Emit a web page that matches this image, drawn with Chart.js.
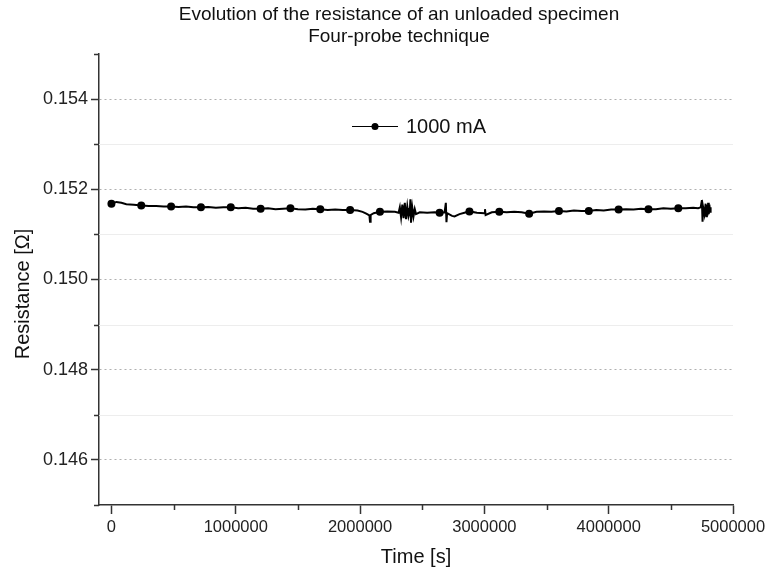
<!DOCTYPE html>
<html>
<head>
<meta charset="utf-8">
<script src="https://cdn.jsdelivr.net/npm/chart.js@4"></script>
<style>
  html, body { margin: 0; padding: 0; background: #fff; }
  canvas { display: block; }
</style>
</head>
<body>
<canvas id="grafico" width="766" height="575"></canvas>
<script>
// dados
var tempo = [
  0, 40000, 80000, 120000, 180000, 240000, 300000, 360000, 420000, 480000,
  540000, 600000, 660000, 720000, 780000, 840000, 900000, 960000, 1020000, 1080000,
  1140000, 1200000, 1260000, 1320000, 1380000, 1440000, 1500000, 1560000, 1620000, 1680000,
  1740000, 1800000, 1860000, 1920000, 1980000, 2020000, 2050000, 2075000, 2080000, 2085000,
  2110000, 2160000, 2220000, 2280000, 2310000, 2320000, 2330000, 2340000, 2350000, 2360000,
  2370000, 2380000, 2390000, 2400000, 2405000, 2410000, 2420000, 2430000, 2440000, 2450000,
  2480000, 2540000, 2600000, 2640000, 2680000, 2690000, 2695000, 2700000, 2740000, 2760000,
  2800000, 2840000, 2880000, 2940000, 3000000, 3005000, 3010000, 3060000, 3120000, 3180000,
  3240000, 3300000, 3360000, 3420000, 3480000, 3540000, 3600000, 3660000, 3720000, 3780000,
  3840000, 3900000, 3960000, 4020000, 4080000, 4140000, 4200000, 4260000, 4320000, 4380000,
  4440000, 4500000, 4560000, 4620000, 4680000, 4720000, 4740000, 4750000, 4755000, 4760000,
  4770000, 4780000, 4785000, 4790000, 4795000, 4800000, 4805000, 4810000, 4815000, 4820000
];
var resistencia = [
  0.15168, 0.15172, 0.15170, 0.15167, 0.15166, 0.15164, 0.15163, 0.15163, 0.15162, 0.15162,
  0.15161, 0.15162, 0.15160, 0.15160, 0.15161, 0.15159, 0.15160, 0.15160, 0.15158, 0.15159,
  0.15157, 0.15157, 0.15158, 0.15156, 0.15157, 0.15158, 0.15156, 0.15155, 0.15157, 0.15156,
  0.15154, 0.15155, 0.15154, 0.15154, 0.15153, 0.15150, 0.15146, 0.15142, 0.15128, 0.15143,
  0.15147, 0.15150, 0.15151, 0.15150, 0.15148, 0.15160, 0.15138, 0.15166, 0.15136, 0.15170,
  0.15134, 0.15162, 0.15140, 0.15150, 0.15178, 0.15126, 0.15160, 0.15140, 0.15156, 0.15145,
  0.15149, 0.15148, 0.15149, 0.15148, 0.15149, 0.15170, 0.15127, 0.15147, 0.15141, 0.15140,
  0.15145, 0.15148, 0.15151, 0.15148, 0.15147, 0.15156, 0.15143, 0.15149, 0.15150, 0.15149,
  0.15150, 0.15149, 0.15146, 0.15150, 0.15151, 0.15150, 0.15152, 0.15151, 0.15153, 0.15152,
  0.15152, 0.15154, 0.15153, 0.15155, 0.15155, 0.15156, 0.15155, 0.15157, 0.15156, 0.15156,
  0.15158, 0.15157, 0.15158, 0.15158, 0.15159, 0.15158, 0.15160, 0.15176, 0.15128, 0.15160,
  0.15145, 0.15168, 0.15140, 0.15165, 0.15142, 0.15170, 0.15145, 0.15166, 0.15150, 0.15160
];
// instantes com marcador (símbolo)
var marcadores = [
  0, 240000, 480000, 720000, 960000, 1200000, 1440000, 1680000, 1920000, 2160000,
  2400000, 2640000, 2880000, 3120000, 3360000, 3600000, 3840000, 4080000, 4320000, 4560000
];
var ticksX = [0, 1000000, 2000000, 3000000, 4000000, 5000000];
var ticksXMenores = [500000, 1500000, 2500000, 3500000, 4500000];
var ticksY = [0.146, 0.148, 0.150, 0.152, 0.154];
var ticksYMenores = [0.145, 0.147, 0.149, 0.151, 0.153, 0.155];

var titulo = ['Evolution of the resistance of an unloaded specimen', 'Four-probe technique'];
var tituloY = 'Resistance [Ω]';
var legenda = '1000 mA';

var fonte = "'Liberation Sans', Arial, sans-serif";

// titulo, legenda, titulo do eixo Y e ticks menores
var extras = {
  id: 'extras',
  beforeDatasetsDraw: function(chart) {
    var ctx = chart.ctx, y = chart.scales.y, a = chart.chartArea;
    ctx.save();
    ctx.strokeStyle = '#ededed';
    ctx.lineWidth = 1;
    ticksYMenores.forEach(function(v) {
      if (v <= 0.145 || v >= 0.155) return;
      var py = Math.round(y.getPixelForValue(v)) + 0.5;
      ctx.beginPath(); ctx.moveTo(a.left, py); ctx.lineTo(a.right, py); ctx.stroke();
    });
    ctx.restore();
  },
  afterDraw: function(chart) {
    var ctx = chart.ctx, x = chart.scales.x, y = chart.scales.y, a = chart.chartArea;
    ctx.save();
    ctx.strokeStyle = '#333';
    ctx.lineWidth = 1.5;
    ticksYMenores.forEach(function(v) {
      var py = Math.round(y.getPixelForValue(v)) + 0.5;
      ctx.beginPath(); ctx.moveTo(a.left, py); ctx.lineTo(a.left - 5, py); ctx.stroke();
    });
    ticksXMenores.forEach(function(v) {
      var px = Math.round(x.getPixelForValue(v)) + 0.5;
      ctx.beginPath(); ctx.moveTo(px, a.bottom); ctx.lineTo(px, a.bottom + 5); ctx.stroke();
    });

    // titulo
    ctx.fillStyle = '#111';
    ctx.font = '19px ' + fonte;
    ctx.textAlign = 'center';
    ctx.textBaseline = 'middle';
    ctx.fillText(titulo[0], 399, 15);
    ctx.fillText(titulo[1], 399, 37);

    // titulo do eixo Y
    ctx.save();
    ctx.translate(23, 294);
    ctx.rotate(-Math.PI / 2);
    ctx.font = '20px ' + fonte;
    ctx.fillText(tituloY, 0, 0);
    ctx.restore();

    // legenda
    var ly = 126;
    ctx.strokeStyle = '#000';
    ctx.lineWidth = 1;
    ctx.beginPath(); ctx.moveTo(352, ly + 0.5); ctx.lineTo(398, ly + 0.5); ctx.stroke();
    ctx.fillStyle = '#000';
    ctx.beginPath(); ctx.arc(375, ly + 0.5, 3.5, 0, Math.PI * 2); ctx.fill();
    ctx.fillStyle = '#111';
    ctx.font = '20px ' + fonte;
    ctx.textAlign = 'left';
    ctx.fillText(legenda, 406, ly + 1);
    ctx.restore();
  }
};

var pontos = tempo.map(function(t, i) { return { x: t, y: resistencia[i] }; });

var grafico = new Chart(document.getElementById('grafico').getContext('2d'), {
  type: 'line',
  data: {
    datasets: [{
      label: legenda,
      data: pontos,
      borderColor: '#000',
      backgroundColor: '#000',
      borderWidth: 2,
      tension: 0,
      pointRadius: function(c) {
        var p = c.raw;
        return p && marcadores.indexOf(p.x) >= 0 ? 4 : 0;
      },
      pointHoverRadius: 0,
      pointBorderWidth: 0
    }]
  },
  options: {
    responsive: false,
    animation: false,
    devicePixelRatio: 1,
    layout: { padding: { top: 54, right: 33, left: 0, bottom: 0 } },
    plugins: {
      legend: { display: false },
      title: { display: false },
      tooltip: { enabled: false }
    },
    scales: {
      x: {
        type: 'linear',
        min: -100000,
        max: 5000000,
        afterFit: function(s) { s.height = 70; s.paddingLeft = 0; s.paddingRight = 0; },
        afterBuildTicks: function(s) { s.ticks = ticksX.map(function(v) { return { value: v }; }); },
        border: { color: '#333', width: 1.5 },
        grid: { drawOnChartArea: false, tickLength: 9, tickColor: '#333', tickWidth: 1.5 },
        ticks: {
          color: '#222',
          padding: 4,
          maxRotation: 0,
          font: { family: fonte, size: 16.5 },
          callback: function(v) { return String(v); }
        },
        title: {
          display: true,
          text: 'Time [s]',
          color: '#111',
          font: { family: fonte, size: 20 },
          padding: { top: 0, bottom: 6 }
        }
      },
      y: {
        min: 0.145,
        max: 0.155,
        afterFit: function(s) { s.width = 99; },
        afterBuildTicks: function(s) { s.ticks = ticksY.map(function(v) { return { value: v }; }); },
        border: { color: '#333', width: 1.5, dash: [2, 3] },
        grid: {
          color: '#b0b0b0',
          lineWidth: 1,
          tickLength: 8,
          tickColor: '#333',
          tickWidth: 1.5,
          tickBorderDash: []
        },
        ticks: {
          color: '#222',
          padding: 3,
          font: { family: fonte, size: 18 },
          callback: function(v) { return v.toFixed(3); }
        },
        title: { display: false }
      }
    }
  },
  plugins: [extras]
});
</script>
</body>
</html>
